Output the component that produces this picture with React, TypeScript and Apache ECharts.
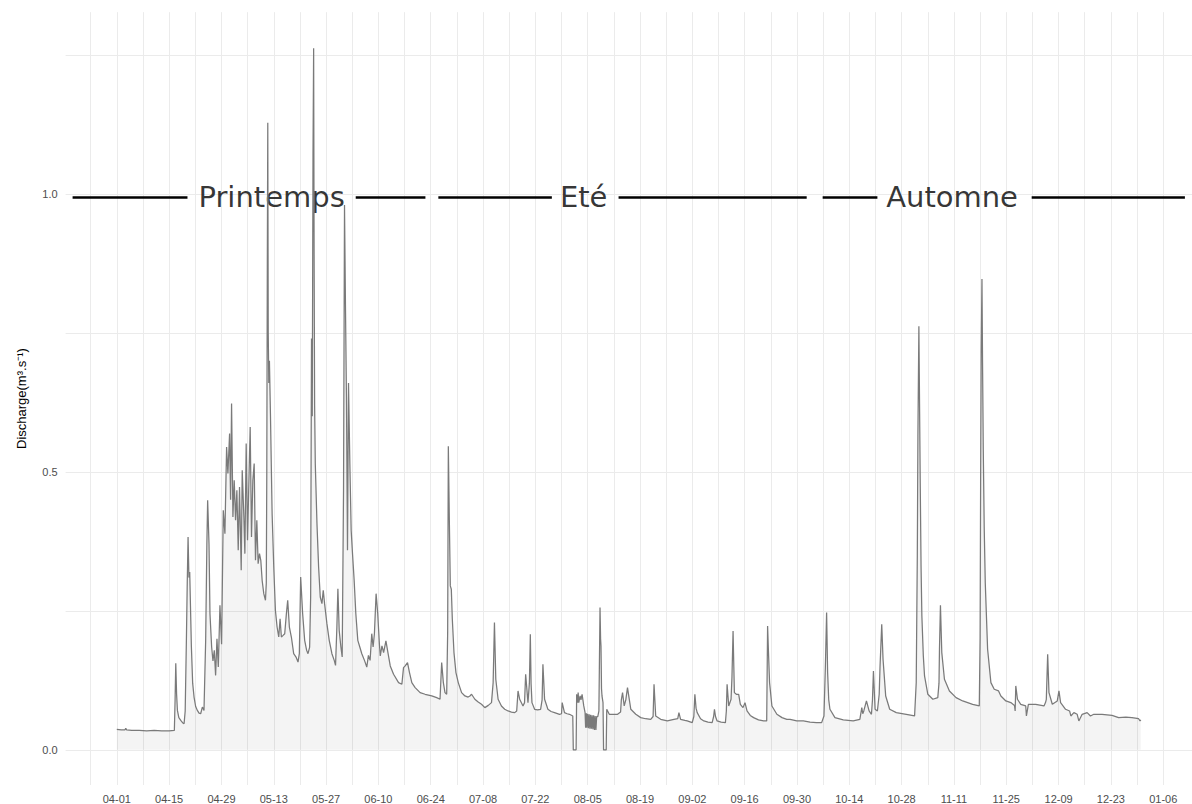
import React, { useEffect, useRef } from "react";
import * as echarts from "echarts";

// Day offsets are counted from 04-01 (day 0); values in m3.s-1
const aprilFlow: number[][] = [
  [0, 0.037], [1.2, 0.036], [2.2, 0.036], [2.4, 0.039], [2.6, 0.036], [4, 0.035], [6, 0.035], [8, 0.034],
  [10, 0.035], [12, 0.034], [14, 0.034], [15.4, 0.035], [15.6, 0.09], [15.78, 0.156], [16.0, 0.1],
  [16.22, 0.071], [16.6, 0.058], [17.11, 0.053], [17.6, 0.049], [18.0, 0.047], [18.3, 0.07], [18.62, 0.197],
  [18.85, 0.3], [19.07, 0.383], [19.3, 0.31], [19.51, 0.32], [19.96, 0.185], [20.3, 0.12], [20.67, 0.095],
  [21.1, 0.078], [21.56, 0.071], [22.0, 0.066], [22.44, 0.065], [22.89, 0.077], [23.33, 0.071], [23.78, 0.197],
  [24.1, 0.37], [24.31, 0.449], [24.67, 0.371], [24.93, 0.245], [25.38, 0.185], [25.73, 0.16], [26.09, 0.179],
  [26.44, 0.134], [26.8, 0.2], [27.16, 0.149], [27.6, 0.26], [28.04, 0.19], [28.49, 0.431], [28.93, 0.389],
  [29.38, 0.545], [29.73, 0.497],
];

const mayFlow: number[][] = [
  [30.18, 0.569], [30.45, 0.45], [30.71, 0.623], [31.07, 0.419], [31.42, 0.485], [31.78, 0.413], [32.13, 0.467],
  [32.49, 0.359], [32.84, 0.473], [33.29, 0.323], [33.56, 0.503], [34.0, 0.419], [34.27, 0.353], [34.62, 0.551],
  [34.98, 0.377], [35.33, 0.479], [35.69, 0.581], [36.04, 0.383], [36.4, 0.485], [36.76, 0.515], [37.11, 0.341],
  [37.47, 0.413], [37.82, 0.335], [38.18, 0.353], [38.53, 0.341], [38.89, 0.305], [39.33, 0.281], [39.78, 0.269],
  [40.0, 0.3], [40.13, 0.491], [40.28, 0.88], [40.4, 1.128], [40.52, 0.75], [40.67, 0.66], [40.84, 0.7],
  [41.11, 0.605], [41.56, 0.425], [42.0, 0.329], [42.44, 0.251], [42.89, 0.221], [43.33, 0.203], [43.69, 0.236],
  [44.04, 0.203], [44.49, 0.206], [44.93, 0.209], [45.38, 0.245], [45.73, 0.269], [46.18, 0.221], [46.71, 0.203],
  [47.33, 0.173], [47.96, 0.167], [48.49, 0.158], [48.84, 0.173], [49.2, 0.311], [49.73, 0.245], [50.27, 0.197],
  [50.8, 0.179], [51.16, 0.173], [51.6, 0.185], [51.87, 0.275], [52.1, 0.74], [52.3, 0.6], [52.5, 1.07],
  [52.67, 1.262], [52.8, 0.88], [52.93, 0.62], [53.11, 0.515], [53.56, 0.407], [54.0, 0.329], [54.44, 0.275],
  [54.89, 0.263], [55.24, 0.287], [55.6, 0.263], [56.22, 0.227], [56.84, 0.197], [57.56, 0.173], [58.18, 0.161],
  [58.53, 0.152], [58.89, 0.221], [59.16, 0.29], [59.51, 0.215], [59.96, 0.185], [60.31, 0.167], [60.67, 0.467],
  [60.93, 0.98],
];

const juneFlow: number[][] = [
  [61.2, 0.79], [61.45, 0.635], [61.73, 0.359], [62.0, 0.66], [62.36, 0.515], [62.71, 0.395], [63.07, 0.353],
  [63.51, 0.305], [63.96, 0.245], [64.49, 0.197], [65.02, 0.185], [65.56, 0.173], [66.27, 0.161], [66.89, 0.149],
  [67.33, 0.17], [67.78, 0.161], [68.22, 0.209], [68.58, 0.185], [68.93, 0.209], [69.38, 0.281], [69.82, 0.245],
  [70.27, 0.19], [70.5, 0.169], [70.95, 0.187], [71.39, 0.175], [72.01, 0.196], [72.55, 0.175], [73.17, 0.151],
  [74.06, 0.136], [75.39, 0.121], [76.28, 0.118], [76.72, 0.148], [77.17, 0.151], [77.79, 0.157], [78.32, 0.139],
  [78.94, 0.121], [79.83, 0.112], [81.16, 0.103], [82.49, 0.1], [84.27, 0.097], [85.6, 0.094], [86.49, 0.091],
  [86.93, 0.157], [87.38, 0.121], [87.82, 0.103], [88.27, 0.1], [88.53, 0.211], [88.71, 0.546], [88.98, 0.414],
  [89.24, 0.295], [89.51, 0.289], [89.78, 0.235], [90.22, 0.175], [90.75, 0.139],
];

const julyFlow: number[][] = [
  [91.37, 0.121], [92.26, 0.103], [93.15, 0.097], [94.0, 0.095], [94.48, 0.097], [94.93, 0.1], [95.81, 0.091],
  [96.7, 0.086], [97.59, 0.082], [98.48, 0.076], [99.4, 0.08], [100.26, 0.085], [100.7, 0.121], [101.05, 0.229],
  [101.41, 0.127], [102.03, 0.091], [102.92, 0.079], [103.8, 0.073], [104.7, 0.07], [105.6, 0.068],
  [106.47, 0.067], [107.0, 0.07], [107.36, 0.106], [107.8, 0.091], [108.69, 0.079], [109.1, 0.085],
  [109.4, 0.136], [110.02, 0.085], [110.4, 0.12], [110.65, 0.208], [110.85, 0.12], [111.09, 0.085],
  [111.8, 0.073], [112.6, 0.072], [113.4, 0.073], [113.8, 0.09], [114.02, 0.154], [114.47, 0.091],
  [115.35, 0.073], [116.2, 0.069], [117.13, 0.067], [118.46, 0.064], [119.0, 0.065], [119.17, 0.085],
  [119.79, 0.067], [120.5, 0.065], [121.13, 0.064],
];

const augustFlow: number[][] = [
  [122.01, 0.061], [122.15, 0.0], [122.9, 0.0], [123.05, 0.1], [123.3, 0.085], [123.45, 0.103], [123.61, 0.085],
  [123.97, 0.097], [124.2, 0.09], [124.5, 0.1], [124.95, 0.079], [125.3, 0.067], [125.45, 0.04], [125.65, 0.066],
  [125.8, 0.04], [126.0, 0.065], [126.2, 0.039], [126.4, 0.064], [126.6, 0.038], [126.8, 0.063], [127.0, 0.038],
  [127.2, 0.062], [127.4, 0.037], [127.6, 0.062], [127.8, 0.036], [128.0, 0.061], [128.2, 0.036], [128.4, 0.06],
  [128.7, 0.06], [129.0, 0.07], [129.12, 0.145], [129.3, 0.256], [129.45, 0.2], [129.56, 0.187], [129.7, 0.11],
  [129.83, 0.097], [130.1, 0.085], [130.25, 0.0], [130.95, 0.0], [131.1, 0.073], [131.78, 0.064], [132.8, 0.064],
  [134.0, 0.064], [134.8, 0.068], [135.0, 0.09], [135.33, 0.103], [135.77, 0.079], [136.2, 0.09], [136.65, 0.112],
  [137.54, 0.073], [138.87, 0.064], [140.2, 0.058], [141.5, 0.056], [142.87, 0.055], [143.5, 0.06],
  [143.75, 0.118], [144.2, 0.061], [145.53, 0.055], [147.31, 0.052], [149.08, 0.055], [150.1, 0.056],
  [150.41, 0.067], [150.86, 0.055], [152.0, 0.053],
];

const septemberFlow: number[][] = [
  [152.63, 0.052], [153.97, 0.049], [154.4, 0.06], [154.68, 0.1], [155.0, 0.075], [155.3, 0.067], [156.2, 0.056],
  [157.08, 0.052], [158.2, 0.05], [159.3, 0.049], [159.7, 0.06], [159.92, 0.073], [160.2, 0.06], [160.63, 0.052],
  [161.7, 0.05], [162.85, 0.049], [163.1, 0.07], [163.3, 0.118], [163.74, 0.079], [164.36, 0.091], [164.6, 0.13],
  [164.9, 0.214], [165.1, 0.15], [165.25, 0.103], [165.78, 0.1], [166.4, 0.1], [166.85, 0.082], [167.56, 0.076],
  [168.09, 0.085], [168.63, 0.07], [169.5, 0.062], [170.4, 0.058], [171.7, 0.054], [173.07, 0.052],
  [173.9, 0.052], [174.14, 0.223], [174.35, 0.18], [174.67, 0.121], [175.29, 0.079], [176.62, 0.064],
  [178.0, 0.058], [179.29, 0.055], [180.16, 0.055], [181.95, 0.052],
];

const octoberFlow: number[][] = [
  [183.71, 0.052], [185.5, 0.05], [187.2, 0.049], [188.6, 0.049], [189.22, 0.061], [189.6, 0.15], [189.93, 0.247],
  [190.2, 0.139], [190.5, 0.09], [190.82, 0.073], [192.16, 0.058], [194.38, 0.054], [197.04, 0.052],
  [198.82, 0.055], [199.35, 0.076], [199.6, 0.065], [199.88, 0.07], [200.59, 0.088], [201.3, 0.07],
  [201.93, 0.064], [202.2, 0.09], [202.46, 0.142], [202.9, 0.073], [203.52, 0.07], [204.0, 0.1], [204.23, 0.151],
  [204.68, 0.226], [205.03, 0.163], [205.74, 0.097], [206.81, 0.073], [208.58, 0.067], [211.25, 0.064],
  [213.47, 0.061], [213.91, 0.121],
];

const novemberFlow: number[][] = [
  [214.2, 0.35], [214.36, 0.564], [214.62, 0.762], [214.8, 0.62], [214.98, 0.48], [215.2, 0.33], [215.42, 0.241],
  [215.8, 0.17], [216.13, 0.133], [217.02, 0.1], [218.35, 0.091], [219.68, 0.094], [220.0, 0.12], [220.13, 0.181],
  [220.39, 0.26], [220.6, 0.21], [220.75, 0.175], [221.46, 0.127], [222.79, 0.106], [224.57, 0.094],
  [226.34, 0.088], [229.01, 0.082], [230.78, 0.079], [231.0, 0.2], [231.14, 0.48], [231.3, 0.72], [231.5, 0.847],
  [231.65, 0.7], [231.85, 0.54], [232.1, 0.4], [232.38, 0.301], [233.01, 0.181], [233.89, 0.121],
  [234.78, 0.109], [235.94, 0.106], [236.56, 0.097], [237.89, 0.088], [239.22, 0.085], [240.2, 0.08],
  [240.38, 0.07], [240.55, 0.115], [241.0, 0.091], [241.88, 0.082], [243.21, 0.079], [243.39, 0.061],
];

const decemberFlow: number[][] = [
  [243.92, 0.082], [245.88, 0.082], [248.1, 0.079], [248.5, 0.085], [248.72, 0.091], [249.08, 0.172],
  [249.43, 0.103], [250.32, 0.082], [251.65, 0.088], [252.1, 0.106], [252.54, 0.085], [253.87, 0.073],
  [254.94, 0.07], [255.29, 0.061], [256.09, 0.067], [256.98, 0.064], [257.42, 0.052], [258.31, 0.064],
  [259.64, 0.067], [260.53, 0.061], [261.42, 0.064], [263.64, 0.064], [266.3, 0.062], [268.08, 0.058],
  [270.0, 0.059], [271.63, 0.058], [273.41, 0.056], [273.8, 0.052], [274.0, 0.054],
];

// Axis ticks
const xGridDays = [-7, 0, 7, 14, 21, 28, 35, 42, 49, 56, 63, 70, 77, 84, 91, 98, 105, 112, 119, 126, 133, 140,
  147, 154, 161, 168, 175, 182, 189, 196, 203, 210, 217, 224, 231, 238, 245, 252, 259, 266, 273, 280];
const xLabelDays = [0, 14, 28, 42, 56, 70, 84, 98, 112, 126, 140, 154, 168, 182, 196, 210, 224, 238, 252, 266, 280];
const xTickLabels = ["04-01", "04-15", "04-29", "05-13", "05-27", "06-10", "06-24", "07-08", "07-22", "08-05",
  "08-19", "09-02", "09-16", "09-30", "10-14", "10-28", "11-11", "11-25", "12-09", "12-23", "01-06"];
const yGridValues = [0, 0.25, 0.5, 0.75, 1, 1.25];
const yLabelValues = [0, 0.5, 1];
const yTickLabels = ["0.0", "0.5", "1.0"];

// Season annotations (data coordinates)
const seasonLevel = 0.995;
const seasonSegments: number[][] = [
  [-11.83, 18.91], [63.93, 82.58], [86.04, 116.41], [134.26, 184.6], [188.87, 203.52], [244.8, 285.8],
];
const seasonNames = ["Printemps", "Eté", "Automne"];
const seasonCenters = [41.42, 124.93, 223.5];

const allFlow = [
  ...aprilFlow, ...mayFlow, ...juneFlow, ...julyFlow, ...augustFlow,
  ...septemberFlow, ...octoberFlow, ...novemberFlow, ...decemberFlow,
];

export default function App() {
  const ref = useRef<HTMLDivElement>(null);
  useEffect(() => {
    if (!ref.current) return;
    const chart = echarts.init(ref.current, undefined, { renderer: "svg" });
    const axisFont = "'Liberation Sans', Arial, sans-serif";
    chart.setOption({
      animation: false,
      backgroundColor: "#ffffff",
      grid: { left: 65.6, top: 12.2, width: 1131.4, height: 773.7, containLabel: false },
      xAxis: {
        type: "value",
        min: -13.7,
        max: 287.7,
        axisLine: { show: false },
        axisTick: { show: false, customValues: xGridDays },
        axisLabel: {
          customValues: xLabelDays,
          formatter: (v: number) => {
            const i = xLabelDays.indexOf(Math.round(v));
            return i >= 0 ? xTickLabels[i] : "";
          },
          color: "#4d4d4d",
          fontSize: 11,
          fontFamily: axisFont,
          margin: 8,
        },
        splitLine: { show: true, lineStyle: { color: "#ebebeb", width: 1 } },
      },
      yAxis: {
        type: "value",
        min: -0.0632,
        max: 1.327,
        name: "Discharge(m³.s⁻¹)",
        nameLocation: "middle",
        nameRotate: 90,
        nameGap: 38,
        nameTextStyle: { color: "#000000", fontSize: 13, fontFamily: axisFont },
        axisLine: { show: false },
        axisTick: { show: false, customValues: yGridValues },
        axisLabel: {
          customValues: yLabelValues,
          formatter: (v: number) => {
            const i = yLabelValues.findIndex((t) => Math.abs(t - v) < 1e-6);
            return i >= 0 ? yTickLabels[i] : "";
          },
          color: "#4d4d4d",
          fontSize: 11,
          fontFamily: axisFont,
          margin: 8,
        },
        splitLine: { show: true, lineStyle: { color: "#ebebeb", width: 1 } },
      },
      series: [
        {
          type: "line",
          data: allFlow,
          showSymbol: false,
          symbol: "none",
          lineStyle: { color: "#7a7a7a", width: 1.25 },
          areaStyle: { color: "rgba(0,0,0,0.06)" },
          silent: true,
        },
        {
          type: "scatter",
          data: seasonNames.map((n, i) => ({ name: n, value: [seasonCenters[i], seasonLevel] })),
          symbolSize: 0,
          silent: true,
          label: {
            show: true,
            position: "inside",
            formatter: "{b}",
            color: "#000000",
            fontSize: 29,
            fontFamily: "'DejaVu Sans', sans-serif",
          },
          markLine: {
            silent: true,
            symbol: ["none", "none"],
            label: { show: false },
            lineStyle: { color: "#000000", width: 2.5, type: "solid" },
            emphasis: { disabled: true },
            data: seasonSegments.map(([a, b]) => [
              { coord: [a, seasonLevel] },
              { coord: [b, seasonLevel] },
            ]),
          },
        },
      ],
    });
    return () => chart.dispose();
  }, []);
  return (
    <div
      ref={ref}
      style={{ position: "fixed", left: 0, top: 0, width: 1192, height: 804, background: "#fff" }}
    />
  );
}
